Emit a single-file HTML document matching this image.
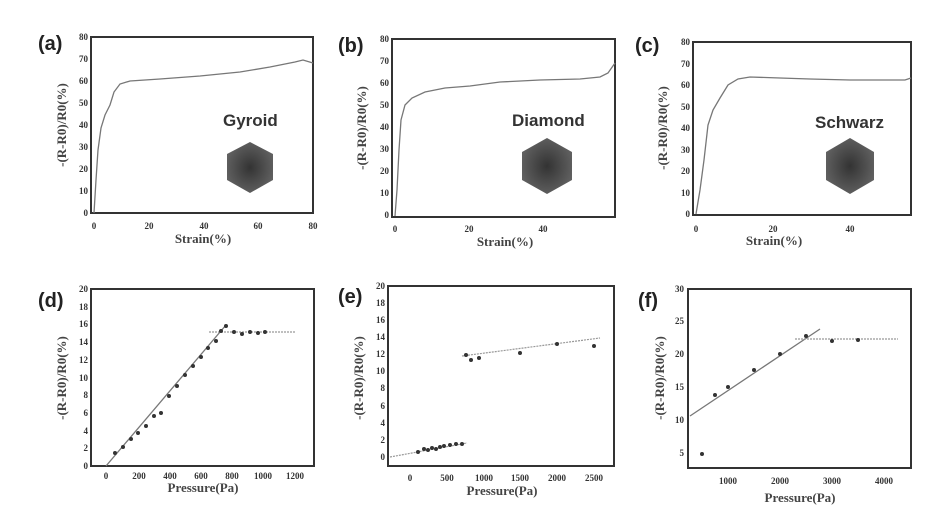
<!DOCTYPE html>
<html><head><style>
html,body{margin:0;padding:0;background:#fff;}
svg{display:block;}
text{font-family:"Liberation Serif",serif;font-weight:bold;fill:#333;}
.t{font-size:9px;fill:#555;}
.lab{font-family:"Liberation Sans",sans-serif;font-size:20px;fill:#222;}
.ax{font-size:13px;fill:#444;}
.box{fill:none;stroke:#333;stroke-width:2;}
.c{fill:none;stroke:#777;stroke-width:1.3;}
.f{fill:none;stroke:#999;stroke-width:1.2;stroke-dasharray:2 1;}
.nm{font-family:"Liberation Sans",sans-serif;font-size:17px;fill:#333;}
</style></head><body>
<svg width="932" height="527" viewBox="0 0 932 527" xmlns="http://www.w3.org/2000/svg">
<defs>
<radialGradient id="g" cx="50%" cy="50%" r="60%"><stop offset="0" stop-color="#333"/><stop offset="1" stop-color="#666"/></radialGradient>
</defs>
<!-- (a) -->
<text class="lab" x="38" y="50">(a)</text>
<rect class="box" x="91" y="37" width="222" height="176"/>
<g class="t" text-anchor="end">
<text x="88" y="216">0</text><text x="88" y="194">10</text><text x="88" y="172">20</text><text x="88" y="150">30</text><text x="88" y="128">40</text><text x="88" y="106">50</text><text x="88" y="84">60</text><text x="88" y="62">70</text><text x="88" y="40">80</text></g>
<g class="t" text-anchor="middle"><text x="94" y="229">0</text><text x="149" y="229">20</text><text x="204" y="229">40</text><text x="258" y="229">60</text><text x="313" y="229">80</text></g>
<text class="ax" x="203" y="243" text-anchor="middle">Strain(%)</text>
<text class="ax" transform="translate(66,125) rotate(-90)" text-anchor="middle">-(R-R0)/R0(%)</text>
<path class="c" d="M94,213 L96,180 L98,150 L101,128 L105,115 L110,105 L114,92 L120,84 L130,81 L160,79 L200,76 L240,72 L270,67 L295,62 L303,60 L313,63"/>
<text class="nm" x="223" y="126">Gyroid</text>
<polygon points="250,142 273,154 273,180 250,193 227,180 227,154" fill="url(#g)"/>
<!-- (b) -->
<text class="lab" x="338" y="52">(b)</text>
<rect class="box" x="392" y="39" width="223" height="178"/>
<g class="t" text-anchor="end">
<text x="389" y="218">0</text><text x="389" y="196">10</text><text x="389" y="174">20</text><text x="389" y="152">30</text><text x="389" y="130">40</text><text x="389" y="108">50</text><text x="389" y="86">60</text><text x="389" y="64">70</text><text x="389" y="42">80</text></g>
<g class="t" text-anchor="middle"><text x="395" y="232">0</text><text x="469" y="232">20</text><text x="543" y="232">40</text></g>
<text class="ax" x="505" y="246" text-anchor="middle">Strain(%)</text>
<text class="ax" transform="translate(366,128) rotate(-90)" text-anchor="middle">-(R-R0)/R0(%)</text>
<path class="c" d="M395,216 L397,190 L399,150 L401,120 L405,105 L412,98 L425,92 L445,88 L470,86 L500,82 L540,80 L580,79 L600,77 L608,73 L615,63"/>
<text class="nm" x="512" y="126">Diamond</text>
<polygon points="547,138 572,152 572,180 547,194 522,180 522,152" fill="url(#g)"/>
<!-- (c) -->
<text class="lab" x="635" y="52">(c)</text>
<rect class="box" x="693" y="42" width="218" height="173"/>
<g class="t" text-anchor="end">
<text x="690" y="217">0</text><text x="690" y="196">10</text><text x="690" y="174">20</text><text x="690" y="153">30</text><text x="690" y="131">40</text><text x="690" y="110">50</text><text x="690" y="88">60</text><text x="690" y="67">70</text><text x="690" y="45">80</text></g>
<g class="t" text-anchor="middle"><text x="696" y="232">0</text><text x="773" y="232">20</text><text x="850" y="232">40</text></g>
<text class="ax" x="774" y="245" text-anchor="middle">Strain(%)</text>
<text class="ax" transform="translate(667,128) rotate(-90)" text-anchor="middle">-(R-R0)/R0(%)</text>
<path class="c" d="M696,214 L700,190 L704,160 L708,125 L713,110 L720,98 L728,85 L738,79 L750,77 L780,78 L810,79 L850,80 L890,80 L905,80 L911,78"/>
<text class="nm" x="815" y="128">Schwarz</text>
<polygon points="850,138 874,152 874,180 850,194 826,180 826,152" fill="url(#g)"/>
<!-- (d) -->
<text class="lab" x="38" y="307">(d)</text>
<rect class="box" x="91" y="289" width="223" height="177"/>
<g class="t" text-anchor="end">
<text x="88" y="469">0</text><text x="88" y="451">2</text><text x="88" y="434">4</text><text x="88" y="416">6</text><text x="88" y="398">8</text><text x="88" y="381">10</text><text x="88" y="363">12</text><text x="88" y="345">14</text><text x="88" y="327">16</text><text x="88" y="310">18</text><text x="88" y="292">20</text></g>
<g class="t" text-anchor="middle"><text x="106" y="479">0</text><text x="139" y="479">200</text><text x="170" y="479">400</text><text x="201" y="479">600</text><text x="232" y="479">800</text><text x="263" y="479">1000</text><text x="295" y="479">1200</text></g>
<text class="ax" x="203" y="492" text-anchor="middle">Pressure(Pa)</text>
<text class="ax" transform="translate(66,378) rotate(-90)" text-anchor="middle">-(R-R0)/R0(%)</text>
<path class="c" d="M106,466 L226,325"/>
<path class="f" d="M209,332 L295,332"/>
<g fill="#333">
<circle cx="115" cy="453" r="2"/><circle cx="123" cy="447" r="2"/><circle cx="131" cy="439" r="2"/><circle cx="138" cy="433" r="2"/><circle cx="146" cy="426" r="2"/><circle cx="154" cy="416" r="2"/><circle cx="161" cy="413" r="2"/><circle cx="169" cy="396" r="2"/><circle cx="177" cy="386" r="2"/><circle cx="185" cy="375" r="2"/><circle cx="193" cy="366" r="2"/><circle cx="201" cy="357" r="2"/><circle cx="208" cy="348" r="2"/><circle cx="216" cy="341" r="2"/><circle cx="221" cy="331" r="2"/><circle cx="226" cy="326" r="2"/><circle cx="234" cy="332" r="2"/><circle cx="242" cy="334" r="2"/><circle cx="250" cy="332" r="2"/><circle cx="258" cy="333" r="2"/><circle cx="265" cy="332" r="2"/></g>
<!-- (e) -->
<text class="lab" x="338" y="303">(e)</text>
<rect class="box" x="388" y="286" width="226" height="180"/>
<g class="t" text-anchor="end">
<text x="385" y="460">0</text><text x="385" y="443">2</text><text x="385" y="426">4</text><text x="385" y="409">6</text><text x="385" y="391">8</text><text x="385" y="374">10</text><text x="385" y="357">12</text><text x="385" y="340">14</text><text x="385" y="323">16</text><text x="385" y="306">18</text><text x="385" y="289">20</text></g>
<g class="t" text-anchor="middle"><text x="410" y="481">0</text><text x="447" y="481">500</text><text x="484" y="481">1000</text><text x="520" y="481">1500</text><text x="557" y="481">2000</text><text x="594" y="481">2500</text></g>
<text class="ax" x="502" y="495" text-anchor="middle">Pressure(Pa)</text>
<text class="ax" transform="translate(363,378) rotate(-90)" text-anchor="middle">-(R-R0)/R0(%)</text>
<path class="f" d="M390,457 L467,443"/>
<path class="f" d="M462,356 L600,338"/>
<g fill="#333">
<circle cx="418" cy="452" r="2"/><circle cx="424" cy="449" r="2"/><circle cx="428" cy="450" r="2"/><circle cx="432" cy="448" r="2"/><circle cx="436" cy="449" r="2"/><circle cx="440" cy="447" r="2"/><circle cx="444" cy="446" r="2"/><circle cx="450" cy="445" r="2"/><circle cx="456" cy="444" r="2"/><circle cx="462" cy="444" r="2"/><circle cx="466" cy="355" r="2"/><circle cx="471" cy="360" r="2"/><circle cx="479" cy="358" r="2"/><circle cx="520" cy="353" r="2"/><circle cx="557" cy="344" r="2"/><circle cx="594" cy="346" r="2"/></g>
<!-- (f) -->
<text class="lab" x="638" y="307">(f)</text>
<rect class="box" x="688" y="289" width="223" height="179"/>
<g class="t" text-anchor="end">
<text x="684" y="292">30</text><text x="684" y="324">25</text><text x="684" y="357">20</text><text x="684" y="390">15</text><text x="684" y="423">10</text><text x="684" y="456">5</text></g>
<g class="t" text-anchor="middle"><text x="728" y="484">1000</text><text x="780" y="484">2000</text><text x="832" y="484">3000</text><text x="884" y="484">4000</text></g>
<text class="ax" x="800" y="502" text-anchor="middle">Pressure(Pa)</text>
<text class="ax" transform="translate(664,378) rotate(-90)" text-anchor="middle">-(R-R0)/R0(%)</text>
<path class="c" d="M690,416 L820,329"/>
<path class="f" d="M795,339 L898,339"/>
<g fill="#333">
<circle cx="702" cy="454" r="2"/><circle cx="715" cy="395" r="2"/><circle cx="728" cy="387" r="2"/><circle cx="754" cy="370" r="2"/><circle cx="780" cy="354" r="2"/><circle cx="806" cy="336" r="2"/><circle cx="832" cy="341" r="2"/><circle cx="858" cy="340" r="2"/></g>
</svg>
</body></html>
